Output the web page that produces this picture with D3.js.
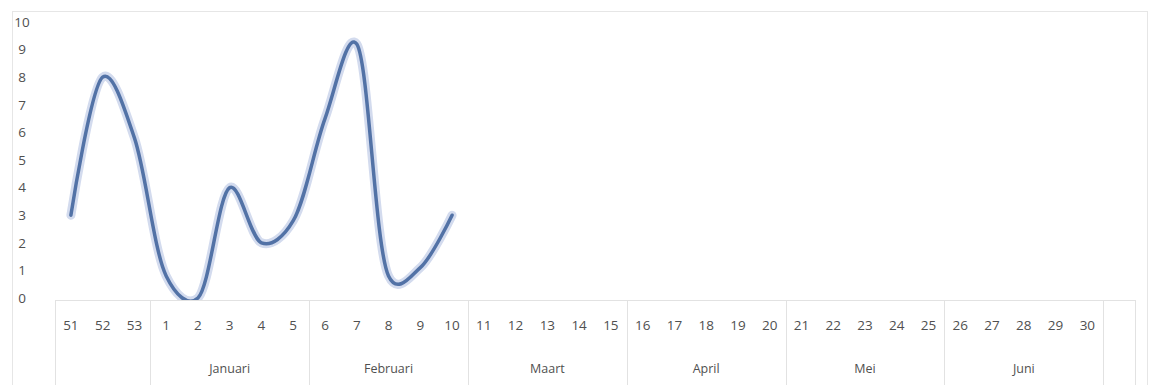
<!DOCTYPE html>
<html>
<head>
<meta charset="utf-8">
<script src="https://cdn.jsdelivr.net/npm/d3@7"></script>
<style>
  body { margin: 0; background: #fff; }
  svg text { font-family: "Open Sans", "DejaVu Sans", sans-serif; fill: #505050; }
</style>
</head>
<body>
<svg id="chart" width="1153" height="385"></svg>
<script>
// week numbers on the axis (last slot is empty)
var weeks = ["51","52","53","1","2","3","4","5","6","7","8","9","10","11","12","13","14","15",
  "16","17","18","19","20","21","22","23","24","25","26","27","28","29","30",""]
// values, only weeks 51 .. 10 have data
var values = [3, 8, 5.8, 0.8, 0, 4, 2, 2.8, 6.5, 9.2, 0.8, 1.1, 3]
// month groups: label, first week, last week
var months = [
  ["", "51", "53"],
  ["Januari", "1", "5"],
  ["Februari", "6", "10"],
  ["Maart", "11", "15"],
  ["April", "16", "20"],
  ["Mei", "21", "25"],
  ["Juni", "26", "30"],
  ["", "", ""]
]
var yTicks = [0,1,2,3,4,5,6,7,8,9,10]

var chart = d3.select("#chart")
var X0 = 55, X1 = 1135, Y0 = 298, Y1 = 22

var x = d3.scaleBand().domain(weeks).range([X0, X1])
var y = d3.scaleLinear().domain([0, 10]).range([Y0, Y1])

// outer frame
chart.append("rect")
  .attr("x", 12.5).attr("y", 11.5).attr("width", 1135).attr("height", 381)
  .attr("fill", "none").attr("stroke", "#e6e6e6")

// y labels
chart.append("g").selectAll("text").data(yTicks).enter()
  .append("text")
    .attr("x", 22)
    .attr("y", d => y(d))
    .attr("dy", "0.35em")
    .attr("text-anchor", "middle")
    .attr("font-size", "13.5px")
    .text(d => d)

// category axis box
var ax = chart.append("g")
ax.append("line")
  .attr("x1", X0).attr("x2", X1).attr("y1", Y0 + 2.5).attr("y2", Y0 + 2.5)
  .attr("stroke", "#e2e2e2")
var bounds = months.map(m => m[1] === "" ? x("") : x(m[1]))
bounds.push(X1)
ax.selectAll(".sep").data(bounds).enter()
  .append("line")
    .attr("class", "sep")
    .attr("x1", d => Math.round(d) + 0.5).attr("x2", d => Math.round(d) + 0.5)
    .attr("y1", Y0 + 2).attr("y2", 385)
    .attr("stroke", "#e2e2e2")

ax.selectAll(".wk").data(weeks).enter()
  .append("text")
    .attr("class", "wk")
    .attr("x", d => x(d) + x.bandwidth() / 2)
    .attr("y", 330)
    .attr("text-anchor", "middle")
    .attr("font-size", "13.5px")
    .text(d => d)

ax.selectAll(".mo").data(months.filter(m => m[0] !== "")).enter()
  .append("text")
    .attr("class", "mo")
    .attr("x", d => (x(d[1]) + x(d[2]) + x.bandwidth()) / 2)
    .attr("y", 373)
    .attr("text-anchor", "middle")
    .attr("font-size", "12.5px")
    .text(d => d[0])

// smoothed line with a soft halo
var line = d3.line()
  .x((d, i) => x(weeks[i]) + x.bandwidth() / 2)
  .y(d => y(d))
  .curve(d3.curveCatmullRom.alpha(0.2))

chart.append("clipPath").attr("id", "clip")
  .append("rect").attr("x", 0).attr("y", 0).attr("width", 1153).attr("height", Y0 + 2)

var lg = chart.append("g").attr("clip-path", "url(#clip)")
lg.append("path").datum(values)
  .attr("d", line).attr("fill", "none")
  .attr("stroke", "#d3dbee").attr("stroke-width", 9)
  .attr("stroke-linecap", "round")
lg.append("path").datum(values)
  .attr("d", line).attr("fill", "none")
  .attr("stroke", "#5272a6").attr("stroke-width", 3.5)
  .attr("stroke-linecap", "round")
</script>
</body>
</html>
